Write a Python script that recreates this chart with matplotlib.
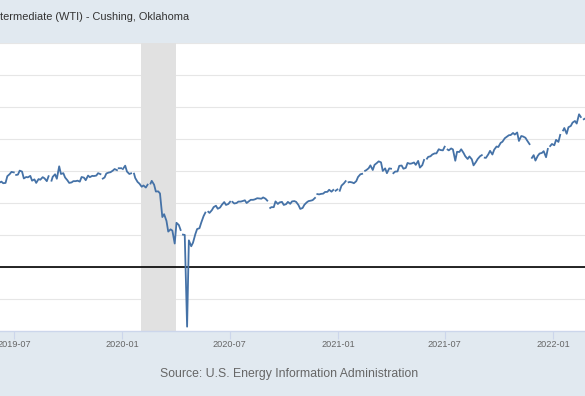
import numpy as np
import pandas as pd
import matplotlib
matplotlib.use("Agg")
import matplotlib.pyplot as plt
import matplotlib.dates as mdates

# ---------------- data (US$ per barrel, Monday / Thursday closes per week) ----------------
first_week = "2019-06-03"

wti_2019 = [
    53.3, 52.6, 53.3, 52.3, 52.5, 56.7, 58.0, 59.4, 59.1, 57.5, 57.7, 60.2,
    59.6, 55.3, 56.2, 56.0, 56.9, 53.9, 54.7, 52.5, 54.9, 54.5, 56.1, 55.4,
    53.6, 56.7, 53.9, 56.3, 57.9, 55.1, 62.9, 58.1, 58.6, 55.9, 54.1, 52.5,
    52.8, 53.6, 53.6, 53.9, 53.3, 56.2, 55.8, 54.2, 57.1, 56.1, 56.9, 56.8,
    57.1, 58.6, 58.0, 55.2, 55.9, 58.4, 59.0, 59.2, 60.2, 61.2, 60.5, 61.7,
    61.7, 61.2,
]
wti_2020 = [
    63.3, 59.6, 58.1, 58.5, 58.3, 55.6, 53.1, 52.1, 50.1, 50.9, 49.6, 51.4,
    52.1, 53.8, 51.4, 47.1, 47.2, 45.9, 31.1, 32.9, 28.7, 22.0, 23.4, 22.6,
    14.5, 27.5, 26.1, 23.0, 20.1, 19.9, -37.6, 16.5, 12.8, 15.0, 20.4, 23.6,
    24.1, 27.6, 31.7, 33.9, 34.4, 33.7, 35.4, 37.3, 38.2, 36.3, 37.1, 38.8,
    40.5, 38.7, 39.3, 40.7, 40.6, 39.6, 39.9, 40.8, 40.8, 41.1, 41.6, 39.9,
    41.0, 41.9, 41.9, 42.2, 42.9, 42.8, 42.6, 43.4, 42.6, 41.4, 36.8, 37.3,
    37.3, 40.9, 39.3, 40.3, 40.6, 38.7, 39.2, 40.6, 39.4, 40.9, 41.1, 40.6,
    38.6, 36.2, 36.8, 38.8, 40.3, 41.1, 41.4, 41.7, 43.1, 45.5, 45.3, 45.6,
    45.8, 46.8, 46.9, 48.2, 47.0, 48.1, 47.6, 48.4,
]
wti_2021 = [
    47.6, 50.8, 52.2, 53.6, 52.9, 53.1, 52.8, 52.3, 53.6, 56.2, 57.9, 58.2,
    60.1, 60.5, 61.7, 63.5, 60.6, 63.8, 65.0, 66.0, 65.4, 60.0, 61.6, 58.6,
    61.6, 61.4, 58.6, 59.6, 59.7, 63.2, 63.4, 61.4, 61.9, 65.0, 64.5, 64.7,
    65.3, 63.8, 66.3, 62.1, 63.6, 66.9, 67.7, 68.8, 69.2, 70.3, 71.0, 71.0,
    73.6, 73.1, 72.9, 75.2, 73.4, 72.9, 74.1, 73.5, 66.4, 72.0, 71.9, 73.6,
    71.3, 69.2, 67.5, 69.1, 67.3, 63.5, 65.6, 67.5, 69.2, 69.9, 68.3, 68.2,
    70.4, 72.6, 70.3, 73.3, 75.3, 75.0, 77.6, 78.3, 80.5, 81.3, 82.4, 82.5,
    83.8, 82.8, 84.1, 78.8, 81.9, 81.6, 80.8, 79.0, 76.8, 68.2, 69.9, 66.5,
    69.5, 70.9, 71.3, 72.4, 68.6, 73.8, 75.6, 76.9,
]
wti_2022 = [
    76.1, 79.5, 78.2, 82.6, 85.4, 86.9, 83.3, 87.4, 88.2, 90.3, 91.3, 89.7,
    95.5, 93.8, 92.4, 92.8,
]

holidays = [
    "2019-07-04", "2019-09-02", "2019-11-28", "2019-12-25", "2020-01-01",
    "2020-01-20", "2020-02-17", "2020-04-10", "2020-05-25", "2020-07-03",
    "2020-09-07", "2020-11-26", "2020-12-25", "2021-01-01", "2021-01-18",
    "2021-02-15", "2021-04-02", "2021-05-31", "2021-07-05", "2021-09-06",
    "2021-11-25", "2021-12-24", "2022-01-17", "2022-02-21",
]

recession = ("2020-02-01", "2020-04-01")
tick_dates = ["2019-07-01", "2020-01-01", "2020-07-01", "2021-01-01",
              "2021-07-01", "2022-01-01"]
x_range = ("2019-06-07 14:00", "2022-02-24 02:00")
y_range = (-40, 140)
title_text = "termediate (WTI) - Cushing, Oklahoma"
source_text = "Source: U.S. Energy Information Administration"

# ---------------- build series ----------------
values = wti_2019 + wti_2020 + wti_2021 + wti_2022
n_weeks = len(values) // 2
weeks = pd.date_range(first_week, periods=n_weeks, freq="7D")
dates = []
for w in weeks:
    dates.append(w)
    dates.append(w + pd.Timedelta(days=3))
hol = set(pd.to_datetime(holidays))
dates = [d + pd.Timedelta(days=1) if d in hol else d for d in dates]
s = pd.Series(values, index=pd.DatetimeIndex(dates))
s = pd.concat([s, pd.Series(np.nan, index=pd.DatetimeIndex(sorted(hol)))]).sort_index()

# ---------------- figure ----------------
W, H = 585, 396
fig = plt.figure(figsize=(W / 100, H / 100), dpi=100)
fig.patch.set_facecolor("#e1e9f0")

top_px, bot_px = 43.3, 330.5
ax = fig.add_axes([0, 1 - bot_px / H, 1, (bot_px - top_px) / H])
ax.set_facecolor("white")

ax.set_xlim(pd.Timestamp(x_range[0]), pd.Timestamp(x_range[1]))
ax.set_ylim(*y_range)

for yv in np.arange(-20, 141, 20):
    ax.axhline(yv, color="#e6e6e6", lw=0.8, zorder=1)
ax.axvspan(pd.Timestamp(recession[0]), pd.Timestamp(recession[1]),
           color="#e1e1e1", lw=0, zorder=2)
ax.axhline(0, color="black", lw=1.2, zorder=3)
ax.plot(s.index, s.values, color="#4572a7", lw=1.3, zorder=4)

for sp in ["top", "left", "right"]:
    ax.spines[sp].set_visible(False)
ax.spines["bottom"].set_color("#ccd6eb")
ax.spines["bottom"].set_linewidth(1.0)
ax.set_yticks([])
ax.set_xticks(pd.to_datetime(tick_dates))
ax.xaxis.set_major_formatter(mdates.DateFormatter("%Y-%m"))
ax.tick_params(axis="x", length=6.0, width=0.8, color="#ccd6eb", pad=0.8,
               labelsize=6.6, labelcolor="#666666")
for lab in ax.get_xticklabels():
    lab.set_family("Liberation Sans")

fig.text(0.0, 1 - 17 / H, title_text, family="Liberation Sans", fontsize=7.9,
         color="#333333", ha="left", va="center")
fig.text(289 / W, 1 - 374 / H, source_text, family="Liberation Sans",
         fontsize=8.8, color="#666666", ha="center", va="center")

fig.savefig("out.png", dpi=100, facecolor=fig.get_facecolor())
